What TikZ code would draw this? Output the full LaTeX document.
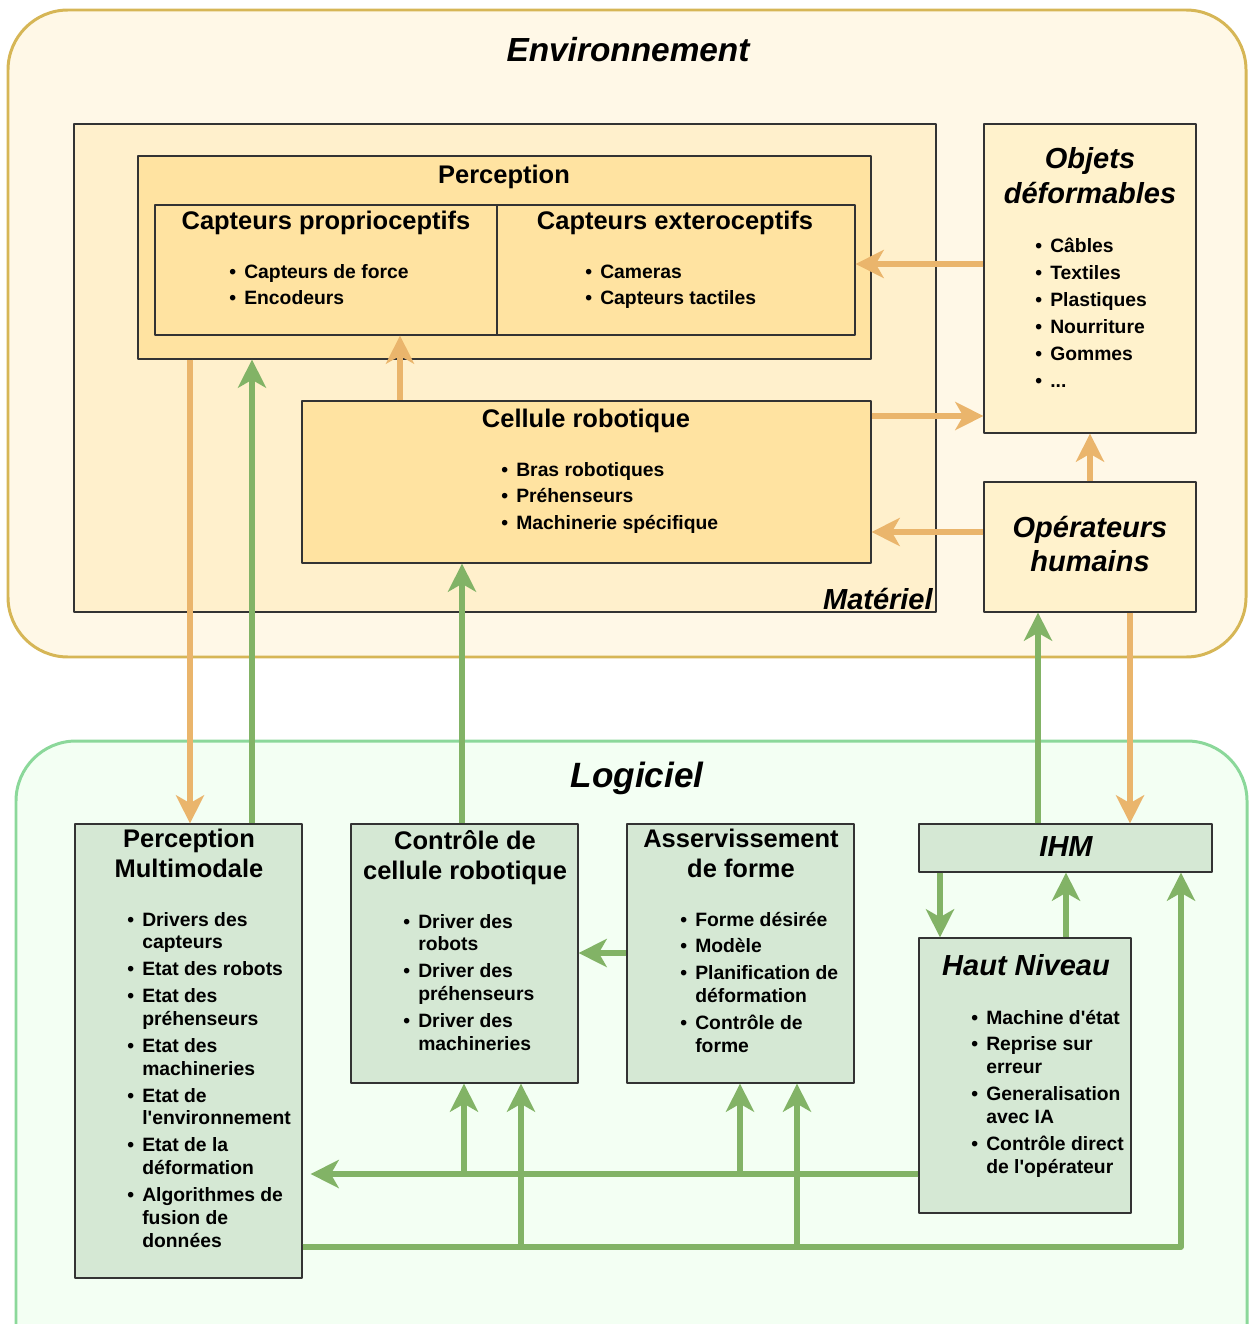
\documentclass[tikz,border=0pt]{standalone}
\usepackage{fontspec}
\setmainfont{Liberation Sans}[Ligatures=TeXOff]
\usetikzlibrary{arrows.meta,fit}

\definecolor{envfill}{HTML}{FFF8E7}
\definecolor{envdraw}{HTML}{D6B656}
\definecolor{matfill}{HTML}{FFF0CC}
\definecolor{hwfill}{HTML}{FFE3A1}
\definecolor{objfill}{HTML}{FFF2CC}
\definecolor{logfill}{HTML}{F3FFF3}
\definecolor{logdraw}{HTML}{8BD89A}
\definecolor{swfill}{HTML}{D5E8D4}
\definecolor{hwarrow}{HTML}{EAB56C}
\definecolor{swarrow}{HTML}{82B366}

% centred title on two lines, baseline = first line
\newcommand{\twol}[2]{\begin{tabular}[t]{@{}c@{}}#1\\#2\end{tabular}}
% bullet list, one row per line
\newcommand{\blist}[1]{\begin{tabular}[t]{@{}p{8.5pt}@{}l@{}}#1\end{tabular}}
\newcommand{\bi}{\textbullet &}
\newcommand{\isep}{\\[2.3pt]}

\tikzset{
  zone/.style={rounded corners=1.2cm, line width=1.7pt, inner sep=0pt},
  box/.style={draw=black!80, line width=0.7pt, inner sep=0pt},
  ttl/.style={font=\bfseries\fontsize{14.5}{17.5}\selectfont, inner sep=0pt, anchor=base},
  ittl/.style={font=\bfseries\itshape\fontsize{16.5}{19.8}\selectfont, inner sep=0pt, anchor=base},
  lst/.style={font=\bfseries\fontsize{11}{13}\selectfont, inner sep=0pt, anchor=base west},
  hwlink/.style={draw=hwarrow, line width=3pt, -{Stealth[length=16pt, width=16pt, inset=4.5pt]}},
  swlink/.style={draw=swarrow, line width=3pt, -{Stealth[length=16pt, width=16pt, inset=4.5pt]}},
}

\begin{document}
\begin{tikzpicture}[x=0.02cm, y=-0.02cm, line join=round]
\useasboundingbox (0,0) rectangle (1250,1324);
\clip (0,0) rectangle (1250,1324);

% the two zones
\node[zone, draw=envdraw, fill=envfill, fit={(8,10)(1246,657)}] (env) {};
\node[zone, draw=logdraw, fill=logfill, fit={(16,741)(1247,1420)}] (log) {};

% hardware side
\node[box, fill=matfill, fit={(74,124)(936,612)}] (mat) {};
\node[box, fill=hwfill, fit={(138,156)(871,359)}] (perc) {};
\node[box, fill=hwfill, fit={(155,205)(497,335)}] (prop) {};
\node[box, fill=hwfill, fit={(497,205)(855,335)}] (ext) {};
\node[box, fill=hwfill, fit={(302,401)(871,563)}] (cell) {};
\node[box, fill=objfill, fit={(984,124)(1196,433)}] (obj) {};
\node[box, fill=objfill, fit={(984,482)(1196,612)}] (op) {};

% software side
\node[box, fill=swfill, fit={(75,824)(302,1278)}] (pm) {};
\node[box, fill=swfill, fit={(351,824)(578,1083)}] (cc) {};
\node[box, fill=swfill, fit={(627,824)(854,1083)}] (af) {};
\node[box, fill=swfill, fit={(919,824)(1212,872)}] (ihm) {};
\node[box, fill=swfill, fit={(919,938)(1131,1213)}] (hn) {};

% links inside the environment
\draw[hwlink] (obj.west |- 0,264) -- (ext.east |- 0,264);
\draw[hwlink] (cell.north -| 400,0) -- (prop.south -| 400,0);
\draw[hwlink] (cell.east |- 0,416) -- (obj.west |- 0,416);
\draw[hwlink] (op.west |- 0,532) -- (cell.east |- 0,532);
\draw[hwlink] (op.north) -- (obj.south);

% links between the zones
\draw[hwlink] (perc.south -| 190,0) -- (pm.north -| 190,0);
\draw[hwlink] (op.south -| 1130,0) -- (ihm.north -| 1130,0);
\draw[swlink] (pm.north -| 252,0) -- (perc.south -| 252,0);
\draw[swlink] (cc.north -| 462,0) -- (cell.south -| 462,0);
\draw[swlink] (ihm.north -| 1038,0) -- (op.south -| 1038,0);

% links inside the software
\draw[swlink] (af.west |- 0,953) -- (cc.east |- 0,953);
\draw[swlink] (ihm.south -| 940,0) -- (hn.north -| 940,0);
\draw[swlink] (hn.north -| 1066,0) -- (ihm.south -| 1066,0);
\draw[swlink, shorten >=0.16cm] (hn.west |- 0,1174) -- (pm.east |- 0,1174);
\draw[swlink] (hn.west |- 0,1174) -| (cc.south -| 464,0);
\draw[swlink] (hn.west |- 0,1174) -| (af.south -| 740,0);
\draw[swlink] (pm.east |- 0,1247) -| (ihm.south -| 1181,0);
\draw[swlink] (pm.east |- 0,1247) -| (cc.south -| 521,0);
\draw[swlink] (pm.east |- 0,1247) -| (af.south -| 797,0);

% titles
\node[ittl, font=\bfseries\itshape\fontsize{19}{23}\selectfont] (envT) at (628,62) {Environnement};
\node[ittl, font=\bfseries\itshape\fontsize{20}{24}\selectfont] (logT) at (637,787) {Logiciel};
\node[ittl, anchor=base east] (matT) at (933,609) {Matériel};
\node[ttl] (percT) at (504,184) {Perception};
\node[ttl] (propT) at (326,230) {Capteurs proprioceptifs};
\node[ttl] (extT) at (675,230) {Capteurs exteroceptifs};
\node[ttl] (cellT) at (586,427) {Cellule robotique};
\node[ittl] (objT) at (1090,169) {\twol{Objets}{déformables}};
\node[ittl] (opT) at (1090,537) {\twol{Opérateurs}{humains}};
\node[ttl] (pmT) at (189,847) {\twol{Perception}{Multimodale}};
\node[ttl] (ccT) at (465,849) {\twol{Contrôle de}{cellule robotique}};
\node[ttl] (afT) at (741,847) {\twol{Asservissement}{de forme}};
\node[ittl] (ihmT) at (1066,856) {IHM};
\node[ittl] (hnT) at (1026,975) {Haut Niveau};

% bullet lists
\node[lst] (propL) at (229,278) {\blist{\bi Capteurs de force\isep \bi Encodeurs}};
\node[lst] (extL) at (585,278) {\blist{\bi Cameras\isep \bi Capteurs tactiles}};
\node[lst] (cellL) at (501,476) {\blist{\bi Bras robotiques\isep \bi Préhenseurs\isep \bi Machinerie spécifique}};
\node[lst] (objL) at (1035,253) {\blist{\bi Câbles\isep \bi Textiles\isep \bi Plastiques\isep
  \bi Nourriture\isep \bi Gommes\isep \bi ...}};
\node[lst] (pmL) at (127,926) {\blist{\bi Drivers des\\ & capteurs\isep
  \bi Etat des robots\isep
  \bi Etat des\\ & préhenseurs\isep
  \bi Etat des\\ & machineries\isep
  \bi Etat de\\ & l'environnement\isep
  \bi Etat de la\\ & déformation\isep
  \bi Algorithmes de\\ & fusion de\\ & données}};
\node[lst] (ccL) at (403,928) {\blist{\bi Driver des\\ & robots\isep
  \bi Driver des\\ & préhenseurs\isep
  \bi Driver des\\ & machineries}};
\node[lst] (afL) at (680,926) {\blist{\bi Forme désirée\isep
  \bi Modèle\isep
  \bi Planification de\\ & déformation\isep
  \bi Contrôle de\\ & forme}};
\node[lst] (hnL) at (971,1024) {\blist{\bi Machine d'état\isep
  \bi Reprise sur\\ & erreur\isep
  \bi Generalisation\\ & avec IA\isep
  \bi Contrôle direct\\ & de l'opérateur}};
\end{tikzpicture}
\end{document}
